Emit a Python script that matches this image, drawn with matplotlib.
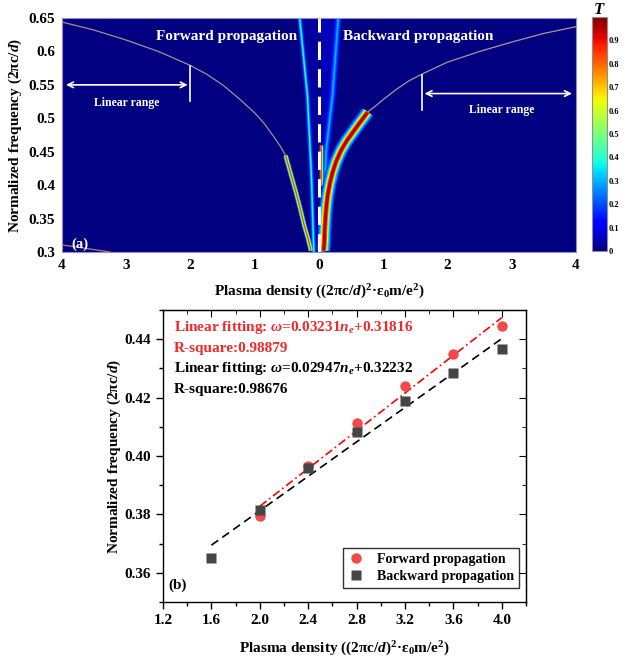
import numpy as np
import matplotlib
matplotlib.use("Agg")
import matplotlib.pyplot as plt
from matplotlib import cm
from matplotlib.colors import Normalize
from matplotlib.ticker import MultipleLocator, FormatStrFormatter

plt.rcParams['font.family'] = ['Liberation Serif', 'DejaVu Serif']
plt.rcParams['font.weight'] = 'bold'
plt.rcParams['mathtext.fontset'] = 'custom'
plt.rcParams['mathtext.rm'] = 'Liberation Serif:bold'
plt.rcParams['mathtext.it'] = 'Liberation Serif:italic:bold'
plt.rcParams['mathtext.bf'] = 'Liberation Serif:bold'

# ---------------- data: panel (a) ridge curves (density, frequency) ----------------
fwd_thin_n = [4.0, 3.5, 3.0, 2.5, 2.0, 1.75, 1.5, 1.25, 1.0, 0.85, 0.7, 0.6, 0.52]
fwd_thin_f = [0.644, 0.632, 0.617, 0.600, 0.579, 0.566, 0.550, 0.530, 0.508,
              0.492, 0.472, 0.458, 0.4445]
fwd_band_n = [0.52, 0.44, 0.36, 0.29, 0.23, 0.17, 0.125]
fwd_band_f = [0.4445, 0.417, 0.390, 0.364, 0.340, 0.320, 0.302]

bwd_thin_n = [4.0, 3.5, 3.0, 2.5, 2.0, 1.6, 1.4, 1.2, 1.0, 0.9, 0.76]
bwd_thin_f = [0.637, 0.627, 0.614, 0.600, 0.584, 0.566, 0.556, 0.543, 0.528,
              0.520, 0.5095]
bwd_band_n = [0.76, 0.64, 0.526, 0.43, 0.344, 0.27, 0.214, 0.17, 0.136, 0.115,
              0.10, 0.09, 0.083, 0.073]
bwd_band_f = [0.5095, 0.494, 0.479, 0.466, 0.452, 0.436, 0.420, 0.403, 0.385,
              0.368, 0.350, 0.333, 0.315, 0.302]

left_edge_n = [-0.30, -0.18, -0.12, -0.08]
left_edge_f = [0.65, 0.534, 0.42, 0.30]
right_edge_n = [0.30, 0.21, 0.11, 0.06]
right_edge_f = [0.65, 0.534, 0.45, 0.30]
sliver_n = [0.03, 0.03]
sliver_f = [0.46, 0.40]

low_n = [4.0, 3.6, 3.25]
low_f = [0.3105, 0.305, 0.300]

lin_fwd_x = [-4.0, -2.0]
lin_fwd_y = 0.55
lin_bwd_x = [1.6, 4.0]
lin_bwd_y = 0.537

xticks_a = [-4, -3, -2, -1, 0, 1, 2, 3, 4]
xticklabels_a = ['4', '3', '2', '1', '0', '1', '2', '3', '4']
yticks_a = [0.3, 0.35, 0.4, 0.45, 0.5, 0.55, 0.6, 0.65]
yticklabels_a = ['0.3', '0.35', '0.4', '0.45', '0.5', '0.55', '0.6', '0.65']
cbar_ticks = [0, 0.1, 0.2, 0.3, 0.4, 0.5, 0.6, 0.7, 0.8, 0.9]
cbar_labels = ['0', '0.1', '0.2', '0.3', '0.4', '0.5', '0.6', '0.7', '0.8', '0.9']

# ---------------- data: panel (b) ----------------
density = [2.0, 2.4, 2.8, 3.2, 3.6, 4.0]
fwd_freq = [0.3793, 0.3967, 0.4113, 0.4239, 0.4348, 0.4445]
bwd_density = [1.6, 2.0, 2.4, 2.8, 3.2, 3.6, 4.0]
bwd_freq = [0.3652, 0.3816, 0.3958, 0.4081, 0.4187, 0.4283, 0.4366]
fwd_slope, fwd_icpt, fwd_r2 = 0.03231, 0.31816, 0.98879
bwd_slope, bwd_icpt, bwd_r2 = 0.02947, 0.32232, 0.98676

jet = matplotlib.colormaps['jet']

fig = plt.figure(figsize=(6.26, 6.6), dpi=100)

# ================= panel (a) =================
ax1 = fig.add_axes([0.099, 0.6182, 0.8211, 0.3545])
ax1.set_facecolor(jet(0.0))
ax1.set_xlim(-4, 4)
ax1.set_ylim(0.3, 0.65)


def neg(v):
    return [-x for x in v]


def glow(x, y, layers):
    for lw, c in layers:
        ax1.plot(x, y, color=jet(c), lw=lw, solid_capstyle='butt',
                 solid_joinstyle='round', zorder=2)

# center bands
glow(left_edge_n, left_edge_f, [(3.5, 0.16), (2.0, 0.26), (0.9, 0.40)])
glow(right_edge_n, right_edge_f, [(5, 0.14), (3, 0.2), (1.2, 0.3)])
ax1.fill_betweenx(left_edge_f, [-0.26, -0.15, -0.10, -0.065], [-0.02] * 4,
                  color=jet(0.03), lw=0, zorder=1)
ax1.fill_betweenx(right_edge_f, [0.02] * 4, [0.26, 0.18, 0.09, 0.048],
                  color=jet(0.05), lw=0, zorder=1)
glow(sliver_n, sliver_f, [(2.5, 0.5), (1.2, 0.85)])

# thin ridges
ax1.plot(neg(fwd_thin_n), fwd_thin_f, color='#a09090', lw=0.9, zorder=3)
ax1.plot(bwd_thin_n, bwd_thin_f, color='#a89898', lw=0.9, zorder=3)
ax1.plot(neg(low_n), low_f, color='#c07868', lw=0.9, zorder=3)

# broad bands
glow(neg(fwd_band_n), fwd_band_f, [(3.4, 0.3), (2.5, 0.42), (1.7, 0.62), (0.9, 0.85)])
glow(bwd_band_n, bwd_band_f, [(10, 0.18), (8, 0.3), (6, 0.44), (4.8, 0.64),
                               (3.6, 0.82), (2.2, 0.95)])

# dashed zero line
ax1.axvline(0, color='white', lw=2.2, dashes=(6, 3), zorder=5)

ax1.set_xticks(xticks_a)
ax1.set_xticklabels(xticklabels_a)
ax1.set_yticks(yticks_a)
ax1.set_yticklabels(yticklabels_a)
ax1.tick_params(length=0, labelsize=11, pad=5)
for s in ax1.spines.values():
    s.set_color('#9090c8')
    s.set_linewidth(0.8)
ax1.set_xlabel('Plasma density ((2πc/$d$)$^{2}$·ε$_{0}$m/e$^{2}$)', fontsize=11,
               fontweight='bold', labelpad=8)
ax1.set_ylabel('Normalized frequency (2πc/$d$)', fontsize=11, fontweight='bold',
               labelpad=3)

ax1.text(-1.44, 0.623, 'Forward propagation', color='white', fontsize=11,
         ha='center', va='center', zorder=6)
ax1.text(1.55, 0.623, 'Backward propagation', color='white', fontsize=11,
         ha='center', va='center', zorder=6)
ax1.annotate('', xy=(lin_fwd_x[0] + 0.02, lin_fwd_y), xytext=(lin_fwd_x[1], lin_fwd_y),
             arrowprops=dict(arrowstyle='<->', color='white', lw=1.2), zorder=6)
ax1.plot([lin_fwd_x[1]] * 2, [lin_fwd_y - 0.024, lin_fwd_y + 0.028], color='white', lw=1.2, zorder=6)
ax1.text(-3.0, 0.5225, 'Linear range', color='white', fontsize=8.5, ha='center',
         va='center', zorder=6)
ax1.annotate('', xy=(lin_bwd_x[1] - 0.02, lin_bwd_y), xytext=(lin_bwd_x[0], lin_bwd_y),
             arrowprops=dict(arrowstyle='<->', color='white', lw=1.2), zorder=6)
ax1.plot([lin_bwd_x[0]] * 2, [lin_bwd_y - 0.024, lin_bwd_y + 0.028], color='white', lw=1.2, zorder=6)
ax1.text(2.84, 0.512, 'Linear range', color='white', fontsize=8.5, ha='center',
         va='center', zorder=6)
ax1.text(-3.85, 0.312, '(a)', color='white', fontsize=10.5, ha='left', va='center', zorder=6)

# colorbar
cax = fig.add_axes([592 / 626, 0.6197, 15 / 626, 0.3545])
cb = fig.colorbar(cm.ScalarMappable(norm=Normalize(0, 1), cmap=jet), cax=cax)
cb.set_ticks(cbar_ticks)
cb.set_ticklabels(cbar_labels)
cb.ax.tick_params(length=0, labelsize=6, pad=1.5)
cb.outline.set_edgecolor('#909090')
cb.outline.set_linewidth(0.8)
fig.text(599.5 / 626, 0.985, '$T$', fontsize=12, ha='center', va='center')

# ================= panel (b) =================
ax2 = fig.add_axes([0.2604, 0.0879, 0.5799, 0.4424])
ax2.set_xlim(1.2, 4.2)
ax2.set_ylim(0.35, 0.45)

xf = np.array([density[0], density[-1]])
ax2.plot(xf, fwd_slope * xf + fwd_icpt, color='red', lw=1.2,
         dashes=(5, 2, 1, 2), zorder=2)
xb = np.array([bwd_density[0], bwd_density[-1]])
ax2.plot(xb, bwd_slope * xb + bwd_icpt, color='black', lw=1.2,
         dashes=(5, 3), zorder=2)
ax2.plot(density, fwd_freq, 'o', color='#f04a4a', ms=7.5, mec='none',
         label='Forward propagation', zorder=3)
ax2.plot(bwd_density, bwd_freq, 's', color='#454545', ms=6.5, mec='none',
         label='Backward propagation', zorder=4)

ax2.xaxis.set_major_locator(MultipleLocator(0.4))
ax2.xaxis.set_minor_locator(MultipleLocator(0.2))
ax2.yaxis.set_major_locator(MultipleLocator(0.02))
ax2.yaxis.set_minor_locator(MultipleLocator(0.01))
ax2.xaxis.set_major_formatter(FormatStrFormatter('%.1f'))
ax2.yaxis.set_major_formatter(FormatStrFormatter('%.2f'))
ax2.tick_params(which='major', direction='out', length=5, width=1, labelsize=11)
ax2.tick_params(which='minor', direction='out', length=3, width=1)
for s in ax2.spines.values():
    s.set_linewidth(1.0)

sx = ax2.secondary_xaxis('top')
sx.xaxis.set_major_locator(MultipleLocator(0.4))
sx.xaxis.set_minor_locator(MultipleLocator(0.2))
sx.tick_params(which='major', direction='in', length=5, labeltop=False)
sx.tick_params(which='minor', direction='in', length=3)
sy = ax2.secondary_yaxis('right')
sy.yaxis.set_major_locator(MultipleLocator(0.02))
sy.yaxis.set_minor_locator(MultipleLocator(0.01))
sy.tick_params(which='major', direction='in', length=5, labelright=False)
sy.tick_params(which='minor', direction='in', length=3)

ax2.set_xlabel('Plasma density ((2πc/$d$)$^{2}$·ε$_{0}$m/e$^{2}$)', fontsize=11,
               fontweight='bold', labelpad=9)
ax2.set_ylabel('Normalized frequency (2πc/$d$)', fontsize=11, fontweight='bold',
               labelpad=1)

red_txt = '#ee2a2a'
ax2.text(0.03, 0.94, 'Linear fitting: $\\omega$=%.5f$n_e$+%.5f' % (fwd_slope, fwd_icpt),
         transform=ax2.transAxes, color=red_txt, fontsize=11, ha='left', va='center')
ax2.text(0.03, 0.868, 'R-square:%.5f' % fwd_r2, transform=ax2.transAxes,
         color=red_txt, fontsize=11, ha='left', va='center')
ax2.text(0.03, 0.80, 'Linear fitting: $\\omega$=%.5f$n_e$+%.5f' % (bwd_slope, bwd_icpt),
         transform=ax2.transAxes, color='black', fontsize=11, ha='left', va='center')
ax2.text(0.03, 0.727, 'R-square:%.5f' % bwd_r2, transform=ax2.transAxes,
         color='black', fontsize=11, ha='left', va='center')
ax2.text(0.015, 0.035, '(b)', transform=ax2.transAxes, fontsize=11, ha='left', va='bottom')

leg = ax2.legend(loc='lower right', bbox_to_anchor=(0.98, 0.048), fontsize=10,
                 frameon=True, fancybox=False, edgecolor='black', borderpad=0.35,
                 borderaxespad=0, handletextpad=0.9, labelspacing=0.3,
                 handlelength=1.2)
leg.get_frame().set_linewidth(1.0)

fig.savefig('out.png', dpi=100)
